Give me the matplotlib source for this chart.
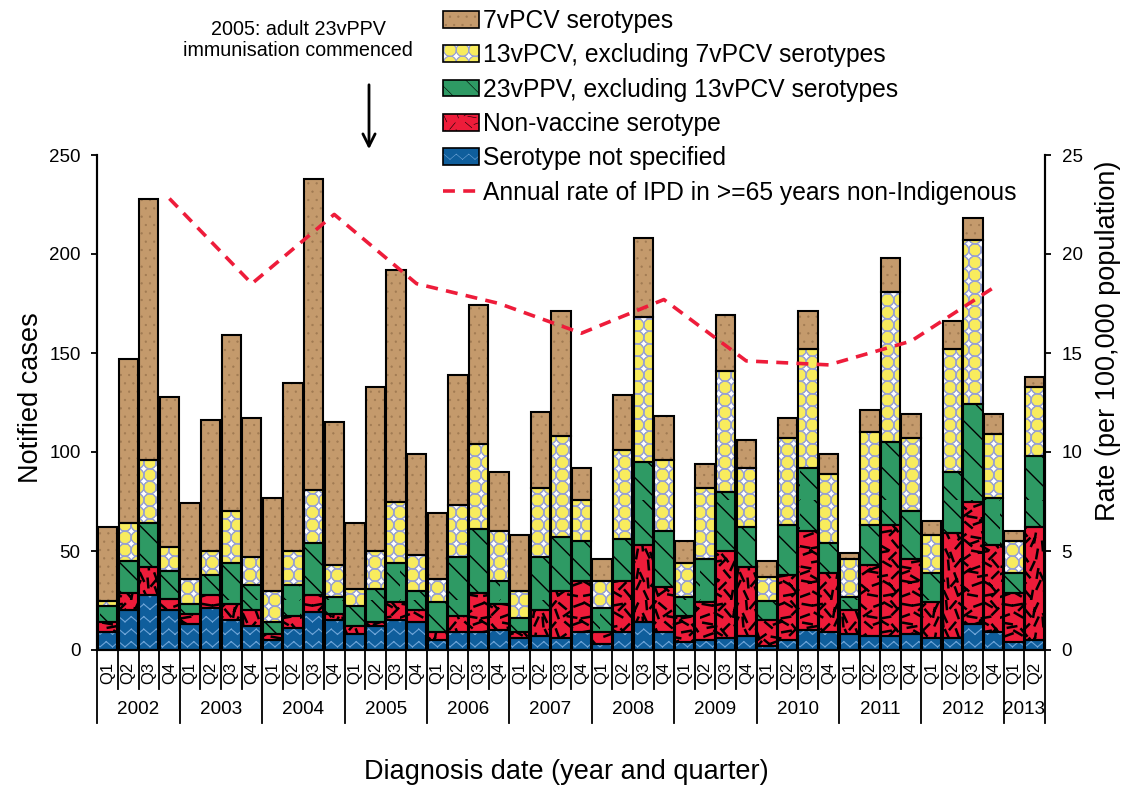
import warnings
warnings.filterwarnings('ignore')
import numpy as np
import matplotlib
matplotlib.use('Agg')
import matplotlib.pyplot as plt
import matplotlib.hatch as mhatch
import matplotlib.transforms as mtransforms
from matplotlib.path import Path
from matplotlib.patches import Patch
from matplotlib.lines import Line2D

plt.rcParams['font.family'] = ['Liberation Sans', 'DejaVu Sans']

# ---------------- data ----------------
years = ['2002', '2003', '2004', '2005', '2006', '2007', '2008', '2009',
         '2010', '2011', '2012', '2013']
quarters = ['Q1', 'Q2', 'Q3', 'Q4'] * 11 + ['Q1', 'Q2']

not_specified = [9, 20, 28, 20, 13, 21, 15, 12, 5, 11, 19, 15, 8, 12, 15, 14,
                 5, 9, 9, 10, 6, 7, 6, 9, 3, 9, 14, 9, 4, 5, 6, 7, 2, 5, 10, 9,
                 8, 7, 7, 8, 6, 6, 13, 9, 4, 5]
non_vaccine = [5, 9, 14, 6, 5, 7, 8, 8, 3, 6, 9, 3, 4, 2, 9, 6, 4, 8, 20, 13,
               3, 13, 24, 26, 6, 26, 39, 23, 13, 19, 44, 35, 13, 33, 50, 30,
               12, 36, 56, 38, 18, 53, 62, 44, 25, 57]
ppv23_excl13 = [8, 16, 22, 14, 5, 10, 21, 13, 6, 16, 26, 9, 10, 17, 20, 10,
                15, 30, 32, 12, 7, 27, 27, 20, 12, 21, 42, 28, 10, 22, 30, 20,
                10, 25, 32, 15, 7, 20, 42, 24, 15, 31, 49, 24, 10, 36]
pcv13_excl7 = [3, 19, 32, 12, 13, 12, 26, 14, 16, 17, 27, 16, 9, 19, 31, 18,
               12, 26, 43, 25, 14, 35, 51, 21, 14, 45, 73, 36, 17, 36, 61, 30,
               12, 44, 60, 35, 19, 47, 76, 37, 19, 62, 83, 32, 16, 35]
pcv7 = [37, 83, 132, 76, 38, 66, 89, 70, 47, 85, 157, 72, 33, 83, 117, 51,
        33, 66, 70, 30, 28, 38, 63, 16, 11, 28, 40, 22, 11, 12, 28, 14,
        8, 10, 19, 10, 3, 11, 17, 12, 7, 14, 11, 10, 5, 5]

rate_years = ['2002', '2003', '2004', '2005', '2006', '2007', '2008', '2009',
              '2010', '2011', '2012']
annual_rate = [22.8, 18.5, 22.0, 18.5, 17.5, 16.0, 17.7, 14.6, 14.4, 15.6, 18.3]

labels = ['7vPCV serotypes', '13vPCV, excluding 7vPCV serotypes',
          '23vPPV, excluding 13vPCV serotypes', 'Non-vaccine serotype',
          'Serotype not specified',
          'Annual rate of IPD in >=65 years non-Indigenous']


# ---------------- custom hatch textures ----------------
class ZigzagHatch(mhatch.HatchPatternBase):
    per_char = 8

    def __init__(self, hatch, density):
        self.n = hatch.count('z') * self.per_char
        self.num_vertices = self.n * self.n * 4

    def set_vertices_and_codes(self, vertices, codes):
        n = self.n
        h = 0.42 / n
        k = 0
        for r in range(n):
            y0 = (r + 0.25) / n
            for p in range(n):
                x0 = p / n
                pts = [(x0, y0), (x0 + 0.5 / n, y0 + h),
                       (x0 + 0.5 / n, y0 + h), (x0 + 1.0 / n, y0)]
                for j, pt in enumerate(pts):
                    vertices[k] = pt
                    codes[k] = Path.MOVETO if j % 2 == 0 else Path.LINETO
                    k += 1


class DiagHatch(mhatch.HatchPatternBase):
    per_char = 7

    def __init__(self, hatch, density):
        self.n = hatch.count('g') * self.per_char
        self.num_vertices = (self.n + 1) * 2 if self.n else 0

    def set_vertices_and_codes(self, vertices, codes):
        steps = np.linspace(-0.5, 0.5, self.n + 1)
        vertices[0::2, 0] = 0.0 + steps
        vertices[0::2, 1] = 1.0 + steps
        vertices[1::2, 0] = 1.0 + steps
        vertices[1::2, 1] = 0.0 + steps
        codes[0::2] = Path.MOVETO
        codes[1::2] = Path.LINETO


class DashHatch(mhatch.HatchPatternBase):
    per_char = 10
    angles = [20, 110, 65, 150, 35, 95, 130, 170, 50, 80, 10, 140, 115, 45]
    offs = [0.0, 0.3, -0.25, 0.15, -0.3, 0.2, -0.1, 0.35, -0.2, 0.1, 0.25]

    def __init__(self, hatch, density):
        self.n = hatch.count('r') * self.per_char
        self.num_vertices = 2 * self.n * self.n

    def set_vertices_and_codes(self, vertices, codes):
        n = self.n
        L = 0.085
        k = 0
        for i in range(n):
            for j in range(n):
                idx = i * 5 + j * 3
                cx = (i + 0.5 + self.offs[idx % len(self.offs)]) / n
                cy = (j + 0.5 + self.offs[(idx + 4) % len(self.offs)]) / n
                cx = min(max(cx, L / 2 + 0.005), 1 - L / 2 - 0.005)
                cy = min(max(cy, L / 2 + 0.005), 1 - L / 2 - 0.005)
                a = np.deg2rad(self.angles[(i * 3 + j * 7) % len(self.angles)])
                dx, dy = 0.5 * L * np.cos(a), 0.5 * L * np.sin(a)
                vertices[k] = (cx - dx, cy - dy)
                codes[k] = Path.MOVETO
                vertices[k + 1] = (cx + dx, cy + dy)
                codes[k + 1] = Path.LINETO
                k += 2


class GridCircles(mhatch.HatchPatternBase):
    char = 'c'
    filled = True
    size = 0.5
    per_char = 8

    def __init__(self, hatch, density):
        self.n = hatch.count(self.char) * self.per_char
        circ = Path.unit_circle()
        self.cv = circ.vertices
        self.cc = circ.codes
        per = len(self.cv) * (1 if self.filled else 2)
        self.num_vertices = (self.n + 1) ** 2 * per if self.n else 0

    def set_vertices_and_codes(self, vertices, codes):
        n = self.n
        sv = self.cv * self.size / n
        sc = self.cc
        if not self.filled:
            sv = np.concatenate([sv, sv[::-1] * 0.92])
            sc = np.concatenate([sc, sc])
        vparts, cparts = [], []
        for i in range(n + 1):
            for j in range(n + 1):
                vparts.append(sv + [i / n, j / n])
                cparts.append(sc)
        np.concatenate(vparts, out=vertices)
        np.concatenate(cparts, out=codes)


class GridRings(GridCircles):
    char = 'k'
    filled = False
    size = 0.52


mhatch._hatch_types.extend([ZigzagHatch, DiagHatch, DashHatch,
                            GridCircles, GridRings])
mhatch._validate_hatch_pattern = lambda h: None

# ---------------- figure ----------------
fig = plt.figure(figsize=(11.21, 7.87), dpi=100)
ax = fig.add_axes([97.3 / 1121, 137 / 787, 947.7 / 1121, 495 / 787])
ax2 = ax.twinx()

x = np.arange(len(quarters))
width = 0.94

series = [
    (not_specified, [('#0F5E9C', 'z', '#6FA5D8', 0.8)]),
    (non_vaccine, [('#EE1C3A', 'r', 'black', 1.8)]),
    (ppv23_excl13, [('#2E9A64', 'g', 'black', 1.0)]),
    (pcv13_excl7, [('white', 'c', '#F8EC5E', 0.5),
                   ('none', 'k', '#97A0D2', 0.6)]),
    (pcv7, [('#C49A6C', '..', '#A07A52', 0.4)]),
]

bottom = np.zeros(len(x))
handle_list = []
for vals, layers in series:
    vals = np.asarray(vals, dtype=float)
    hs = []
    for face, hatch, hcol, hlw in layers:
        plt.rcParams['hatch.linewidth'] = hlw
        bars = ax.bar(x, vals, width, bottom=bottom, color=face,
                      edgecolor=hcol, linewidth=0, hatch=hatch, zorder=2)
        for b in bars:
            if hasattr(b, 'set_hatch_linewidth'):
                b.set_hatch_linewidth(hlw)
        hp = Patch(facecolor=face, edgecolor=hcol, linewidth=0, hatch=hatch)
        if hasattr(hp, 'set_hatch_linewidth'):
            hp.set_hatch_linewidth(hlw)
        hs.append(hp)
    ax.bar(x, vals, width, bottom=bottom, fill=False, edgecolor='black',
           linewidth=1.5, zorder=3)
    hs.append(Patch(fill=False, edgecolor='black', linewidth=1.2))
    handle_list.append(tuple(hs))
    bottom = bottom + vals

handles_ordered = handle_list[::-1]

# rate line (Q4 of each year)
rate_x = [4 * i + 3 for i in range(len(rate_years))]
line, = ax2.plot(rate_x, annual_rate, color='#EE1C3A', lw=2.6,
                 dashes=(3.3, 2.3), zorder=5)

ax.set_xlim(-0.5, len(x) - 0.5)
ax.set_ylim(0, 250)
ax2.set_ylim(0, 25)
ax.set_yticks(np.arange(0, 251, 50))
ax2.set_yticks(np.arange(0, 26, 5))
ax.set_xticks([])
for a in (ax, ax2):
    a.spines['top'].set_visible(False)
    for s in ('left', 'right', 'bottom'):
        a.spines[s].set_linewidth(1.5)
    a.tick_params(axis='y', labelsize=13.5, length=4, width=1.3, pad=8,
                  direction='out')
ax.patch.set_visible(False)

# x-axis category labels
trans = mtransforms.blended_transform_factory(ax.transData, ax.transAxes)
for i, q in enumerate(quarters):
    ax.text(i, -0.047, q, transform=trans, rotation=90, ha='center',
            va='center', fontsize=12, clip_on=False)
for i in range(len(quarters) + 1):
    xb = i - 0.5
    ylow = -0.147 if (i % 4 == 0 or i == len(quarters)) else -0.078
    ax.add_line(Line2D([xb, xb], [0, ylow], transform=trans, color='black',
                       lw=1.3, clip_on=False))
for k, yr in enumerate(years):
    start = 4 * k - 0.5
    end = min(4 * k + 3.5, len(quarters) - 0.5)
    ax.text((start + end) / 2, -0.121, yr, transform=trans, ha='center',
            va='center', fontsize=13.6, clip_on=False)

# axis titles
fig.text(31 / 1121, 1 - 398 / 787, 'Notified cases', rotation=90,
         ha='center', va='center', fontsize=19.5)
fig.text(1108 / 1121, 1 - 341 / 787, 'Rate (per 100,000 population)',
         rotation=90, ha='center', va='center', fontsize=19.5)
fig.text(566 / 1121, 1 - 772 / 787, 'Diagnosis date (year and quarter)',
         ha='center', va='center', fontsize=19.5)

# annotation
fig.text(298 / 1121, 1 - 40 / 787, '2005: adult 23vPPV\nimmunisation commenced',
         ha='center', va='center', fontsize=14.2, linespacing=1.1)
ax.annotate('', xy=(369 / 1121, 1 - 152 / 787), xycoords='figure fraction',
            xytext=(369 / 1121, 1 - 82 / 787), textcoords='figure fraction',
            arrowprops=dict(arrowstyle='->', lw=2, color='black',
                            mutation_scale=22))

# legend
leg_handles = list(handles_ordered) + [line]
fig.legend(leg_handles, labels, loc='upper left',
           bbox_to_anchor=(443 / 1121, 1 - 9 / 787), frameon=False,
           fontsize=17.7, handlelength=1.45, handleheight=0.65,
           handletextpad=0.16, labelspacing=0.42, borderpad=0,
           borderaxespad=0)

fig.savefig('out.png', dpi=100)
